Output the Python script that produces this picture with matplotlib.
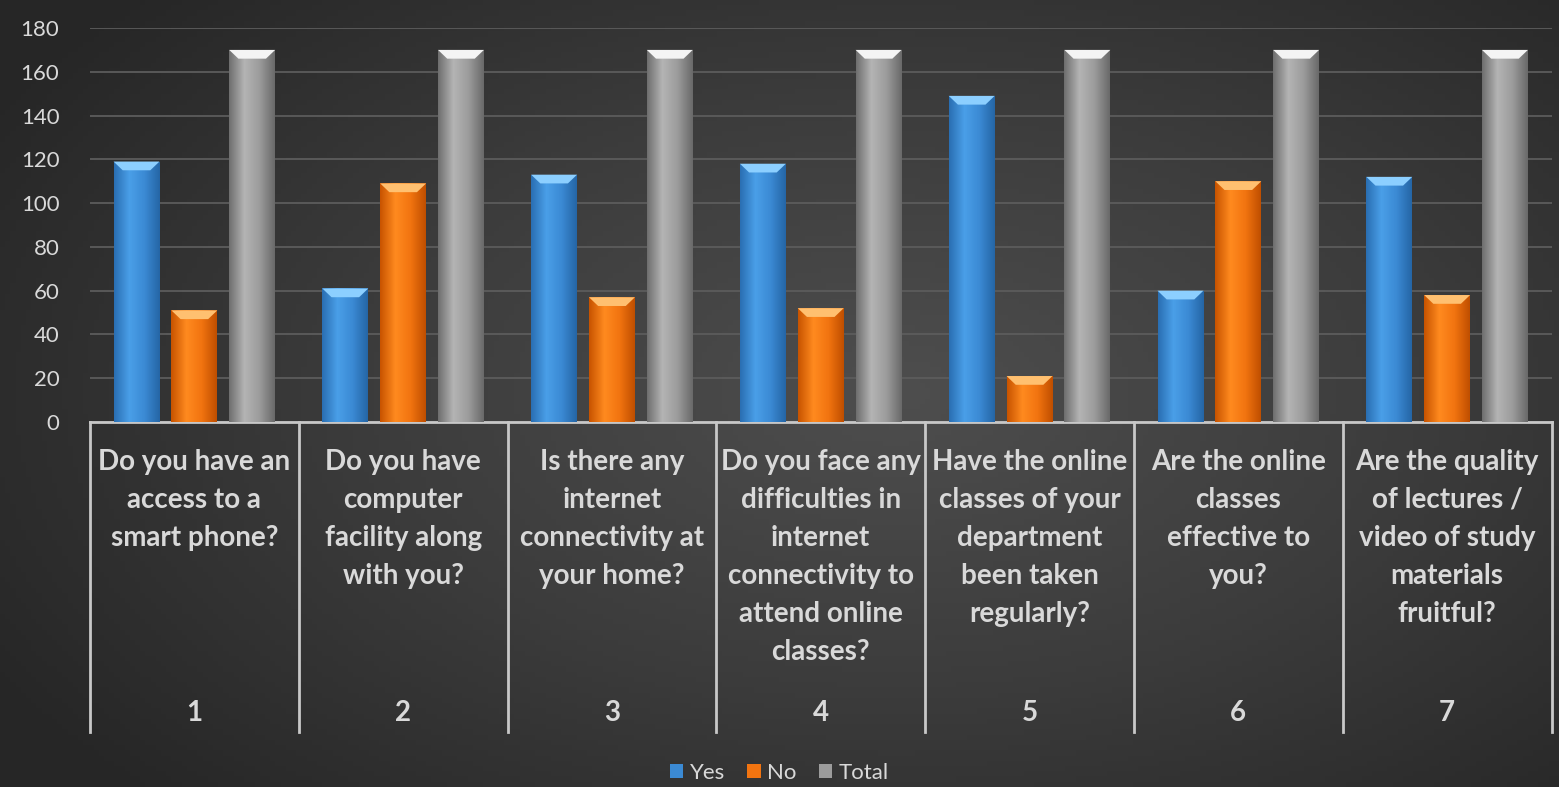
import numpy as np
import matplotlib.pyplot as plt
from matplotlib.colors import LinearSegmentedColormap

questions = [
    "Do you have an\naccess to a\nsmart phone?",
    "Do you have\ncomputer\nfacility along\nwith you?",
    "Is there any\ninternet\nconnectivity at\nyour home?",
    "Do you face any\ndifficulties in\ninternet\nconnectivity to\nattend online\nclasses?",
    "Have the online\nclasses of your\ndepartment\nbeen taken\nregularly?",
    "Are the online\nclasses\neffective to\nyou?",
    "Are the quality\nof lectures /\nvideo of study\nmaterials\nfruitful?",
]
numbers = ["1", "2", "3", "4", "5", "6", "7"]
yes = [119, 61, 113, 118, 149, 60, 112]
no = [51, 109, 57, 52, 21, 110, 58]
total = [170, 170, 170, 170, 170, 170, 170]
series_names = ["Yes", "No", "Total"]

txt = "#d9d9d9"
plt.rcParams['font.family'] = ['Lato', 'DejaVu Sans']

fig = plt.figure(figsize=(15.59, 7.87), dpi=100)

# background gradient
bg = fig.add_axes([0, 0, 1, 1], zorder=-10)
gx, gy = np.meshgrid(np.linspace(-1, 1, 300), np.linspace(-1, 1, 150))
r = np.sqrt((gx - 0.15) ** 2 + (gy * 0.9) ** 2)
bg_cmap = LinearSegmentedColormap.from_list("bg", ["#4e4e4e", "#3c3c3c", "#262626"])
bg.imshow(r, cmap=bg_cmap, aspect='auto', extent=[0, 1, 0, 1], vmin=0, vmax=1.35)
bg.axis('off')

ax = fig.add_axes([0.0577, 0.4638, 0.9375, 0.5006])
ax.set_facecolor('none')

x = np.arange(len(numbers))
w = 0.22
off = 0.277
grads = [
    ["#2a6fb3", "#4a9fe8", "#3b8ad4", "#2566a6"],
    ["#c85400", "#ff8a1f", "#f27410", "#c04f00"],
    ["#6f6f6f", "#b4b4b4", "#9c9c9c", "#6a6a6a"],
]
tops = ["#8ccfff", "#ffc070", "#f4f4f4"]

for i, vals in enumerate([yes, no, total]):
    bars = ax.bar(x + (i - 1) * off, vals, w, color=grads[i][2], zorder=3, label=series_names[i])
    cm = LinearSegmentedColormap.from_list("g%d" % i, grads[i])
    for b in bars:
        x0, y0 = b.get_x(), b.get_y()
        bw, bh = b.get_width(), b.get_height()
        im = ax.imshow(np.linspace(0, 1, 64).reshape(1, -1), cmap=cm, aspect='auto',
                       extent=[x0, x0 + bw, y0, y0 + bh], zorder=3.5)
        im.set_clip_path(b)
        cap = min(4.0, bh * 0.3)
        ax.fill([x0, x0 + bw, x0 + bw * 0.8, x0 + bw * 0.2],
                [y0 + bh, y0 + bh, y0 + bh - cap, y0 + bh - cap],
                color=tops[i], zorder=4, lw=0)

ax.set_xlim(-0.5, len(numbers) - 0.5)
ax.set_ylim(0, 180)
ax.set_yticks(range(0, 181, 20))
ax.yaxis.grid(True, color="#5c5c5c", lw=1.3, zorder=0)
ax.set_axisbelow(True)
ax.tick_params(axis='y', length=0, labelsize=16, labelcolor=txt, pad=22)
ax.tick_params(axis='x', length=0, labelbottom=False)
for s in ['top', 'right', 'left']:
    ax.spines[s].set_visible(False)
ax.spines['bottom'].set_color("#c8c8c8")
ax.spines['bottom'].set_linewidth(2)

# multi-level category axis
for k in range(len(numbers) + 1):
    ax.plot([k - 0.5, k - 0.5], [0, -0.787], transform=ax.get_xaxis_transform(),
            color="#c8c8c8", lw=2, clip_on=False)
for k in range(len(numbers)):
    ax.text(x[k], -0.068, questions[k], transform=ax.get_xaxis_transform(),
            ha='center', va='top', fontsize=20, fontweight='bold', color=txt,
            linespacing=1.57)
    ax.text(x[k], -0.739, numbers[k], transform=ax.get_xaxis_transform(),
            ha='center', va='center', fontsize=20, fontweight='bold', color=txt)

leg = fig.legend(loc='lower center', bbox_to_anchor=(0.5, -0.02), ncol=3, frameon=False,
                 fontsize=16, labelcolor=txt, handlelength=0.6, handleheight=0.6,
                 handletextpad=0.3, columnspacing=1.0)

fig.savefig("out.png", dpi=100)
